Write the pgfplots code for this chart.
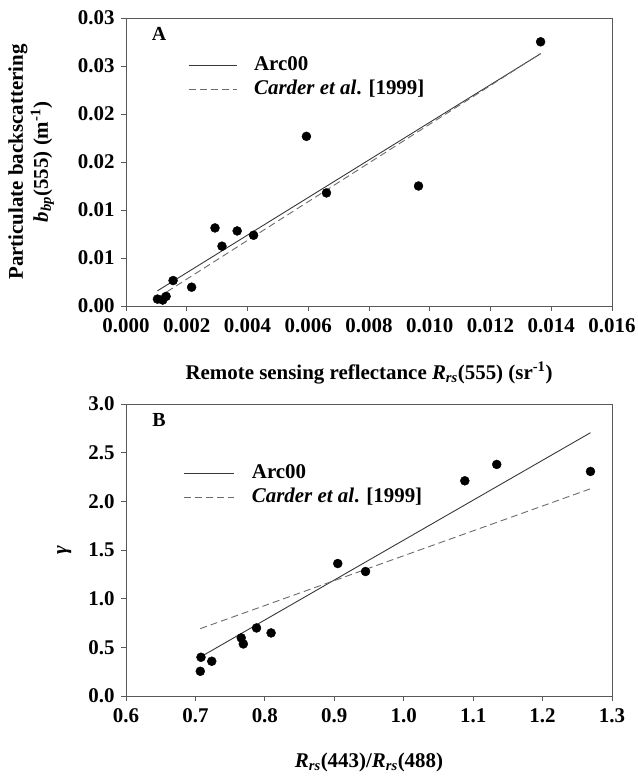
\documentclass[border=0pt]{standalone}
\usepackage{fontspec}
\setmainfont{Liberation Serif}
\usepackage{pgfplots}
\pgfplotsset{compat=1.18}
\definecolor{framec}{gray}{0.35}
\definecolor{linec}{gray}{0.22}
\definecolor{dashc}{gray}{0.42}
\pgfplotsset{
  common/.style={
    scale only axis, width=486bp,
    axis line style={framec, line width=0.9bp},
    tick align=outside, xtick pos=bottom, ytick pos=left,
    major tick length=5bp, tick style={framec, line width=0.9bp},
    ticklabel style={font=\bfseries\fontsize{21}{21}\selectfont},
    xticklabel style={yshift=-4bp},
    yticklabel style={xshift=-3bp},
    label style={font=\bfseries\fontsize{21}{25}\selectfont},
    scaled ticks=false,
    legend style={draw=none, fill=none, font=\bfseries\fontsize{21}{21}\selectfont,
      anchor=west, inner sep=0pt, row sep=4bp, column sep=16bp,
      nodes={inner sep=1bp, text height=14bp, text depth=4bp}},
    legend cell align=left,
  }
}
\begin{document}
\begin{tikzpicture}
\useasboundingbox (0,0) rectangle (638bp,776bp);
\begin{axis}[common, at={(126bp,470bp)}, anchor=south west, height=288bp,
  xmin=0, xmax=0.016, ymin=0, ymax=0.03,
  xtick={0,0.002,0.004,0.006,0.008,0.010,0.012,0.014,0.016},
  xticklabels={0.000,0.002,0.004,0.006,0.008,0.010,0.012,0.014,0.016},
  ytick={0,0.005,0.01,0.015,0.02,0.025,0.03},
  yticklabels={0.00,0.01,0.01,0.02,0.02,0.03,0.03},
  xlabel={Remote sensing reflectance \textit{R}\textsubscript{\textit{rs}}(555) (sr\textsuperscript{-1})},
  ylabel={Particulate backscattering\\\textit{b}\textsubscript{\textit{bp}}(555) (m\textsuperscript{-1})},
  ylabel style={align=center, at={(axis description cs:-0.195,0.5)}, anchor=center},
  xlabel style={at={(axis description cs:0.5,-0.233)}, anchor=center},
  legend style={at={(axis description cs:0.1276,0.795)}},
  legend image code/.code={\draw[#1] (0bp,0bp) -- (48bp,0bp);},
]
\addplot[linec, line width=0.9bp] coordinates {(0.001035,0.00158) (0.01365,0.02628)};
\addlegendentry{Arc00}
\addplot[dashc, line width=0.9bp, dash pattern=on 7bp off 4bp] coordinates {(0.00104,0.00086) (0.01365,0.0263)};
\addlegendentry{\textit{Carder et al}. [1999]}
\addplot[only marks, mark=*, mark size=4.5bp, black, forget plot] coordinates {
(0.001035,0.00072) (0.00121,0.00062) (0.00132,0.0010) (0.00155,0.00265)
(0.00216,0.00196) (0.00293,0.00813) (0.00316,0.00623) (0.00366,0.00782)
(0.0042,0.00737) (0.00594,0.01767) (0.0066,0.01178) (0.00963,0.0125)
(0.01365,0.02752)};
\node[font=\bfseries\fontsize{20}{20}\selectfont] at (axis description cs:0.068,0.946) {A};
\end{axis}
\begin{axis}[common, at={(126bp,80bp)}, anchor=south west, height=292bp,
  xmin=0.6, xmax=1.3, ymin=0, ymax=3,
  xtick={0.6,0.7,0.8,0.9,1.0,1.1,1.2,1.3},
  xticklabels={0.6,0.7,0.8,0.9,1.0,1.1,1.2,1.3},
  ytick={0,0.5,1,1.5,2,2.5,3},
  yticklabels={0.0,0.5,1.0,1.5,2.0,2.5,3.0},
  xlabel={\textit{R}\textsubscript{\textit{rs}}(443)/\textit{R}\textsubscript{\textit{rs}}(488)},
  ylabel={\textit{γ}},
  ylabel style={at={(axis description cs:-0.127,0.5)}, anchor=center},
  xlabel style={at={(axis description cs:0.5,-0.227)}, anchor=center},
  legend style={at={(axis description cs:0.119,0.722)}},
  legend image code/.code={\draw[#1] (0bp,0bp) -- (50bp,0bp);},
]
\addplot[linec, line width=0.9bp] coordinates {(0.709,0.408) (1.269,2.705)};
\addlegendentry{Arc00}
\addplot[dashc, line width=0.9bp, dash pattern=on 7bp off 4bp] coordinates {(0.707,0.692) (1.269,2.129)};
\addlegendentry{\textit{Carder et al}. [1999]}
\addplot[only marks, mark=*, mark size=4.5bp, black, forget plot] coordinates {
(0.707,0.254) (0.708,0.398) (0.7235,0.357) (0.766,0.597) (0.769,0.535)
(0.788,0.699) (0.809,0.648) (0.905,1.361) (0.945,1.279) (1.088,2.211)
(1.134,2.379) (1.269,2.307)};
\node[font=\bfseries\fontsize{20}{20}\selectfont] at (axis description cs:0.068,0.945) {B};
\end{axis}
\end{tikzpicture}
\end{document}
